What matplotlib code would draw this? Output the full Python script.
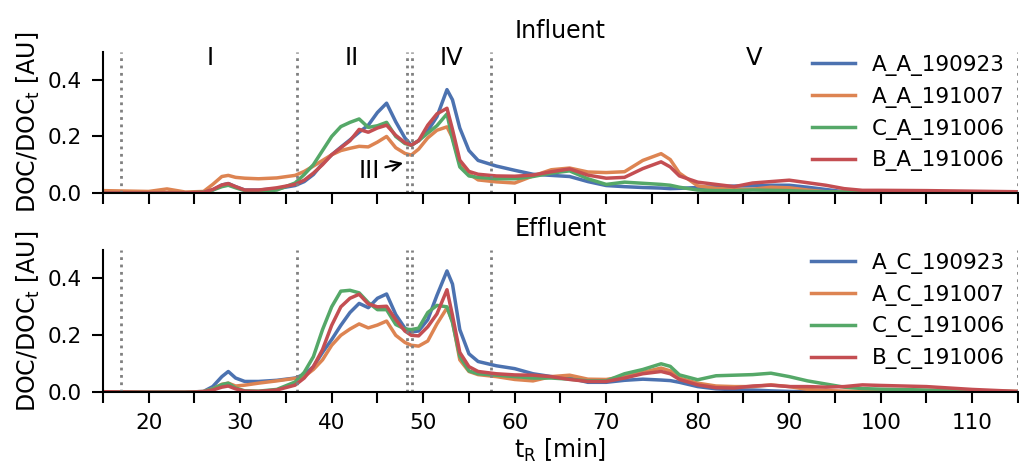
import numpy as np
import matplotlib
matplotlib.use("Agg")
from matplotlib import pyplot as plt

# retention time grid [min]
t_R = [15, 20, 22, 24, 26, 27, 28, 28.7, 29.5, 30.5, 32, 34, 36, 37, 38, 39, 40, 41, 42, 43, 44,
       45, 46, 47, 48, 48.7, 49.5, 50.5, 51.5, 52.6, 53.2, 54, 55, 56, 58, 60, 62, 64, 66, 68, 70,
       72, 74, 76, 77, 78, 80, 82, 84, 86, 88, 90, 92, 94, 96, 98, 100, 105, 110, 115]

# influent
A_A_190923 = [0, 0, 0, 0, 0.002, 0.01, 0.028, 0.033, 0.022, 0.01, 0.01, 0.015, 0.026, 0.04, 0.065, 0.104, 0.135, 0.162, 0.188, 0.215, 0.24,
              0.285, 0.318, 0.252, 0.195, 0.169, 0.185, 0.22, 0.27, 0.366, 0.33, 0.23, 0.15, 0.115, 0.095, 0.08, 0.066, 0.062, 0.058, 0.04, 0.026,
              0.022, 0.019, 0.017, 0.015, 0.016, 0.019, 0.022, 0.024, 0.025, 0.027, 0.027, 0.02, 0.012, 0.004, 0.002, 0.001, 0.001, 0, 0]
A_A_191007 = [0.008, 0.005, 0.014, 0.003, 0.005, 0.03, 0.058, 0.062, 0.055, 0.052, 0.05, 0.053, 0.062, 0.076, 0.095, 0.115, 0.135, 0.15, 0.158, 0.165, 0.163,
              0.18, 0.2, 0.16, 0.14, 0.134, 0.155, 0.195, 0.222, 0.234, 0.195, 0.104, 0.068, 0.046, 0.039, 0.035, 0.06, 0.082, 0.088, 0.074, 0.072,
              0.075, 0.115, 0.139, 0.118, 0.07, 0.025, 0.016, 0.012, 0.013, 0.02, 0.018, 0.01, 0.004, 0.003, 0.003, 0.003, 0.003, 0.004, 0.002]
C_A_191006 = [0, 0, 0, 0, 0.002, 0.01, 0.022, 0.027, 0.018, 0.008, 0.004, 0.01, 0.035, 0.065, 0.1, 0.15, 0.2, 0.235, 0.25, 0.262, 0.232,
              0.238, 0.25, 0.2, 0.175, 0.169, 0.185, 0.212, 0.238, 0.28, 0.19, 0.092, 0.06, 0.055, 0.05, 0.05, 0.058, 0.07, 0.078, 0.05, 0.03,
              0.038, 0.034, 0.03, 0.027, 0.02, 0.01, 0.008, 0.008, 0.01, 0.009, 0.008, 0.005, 0.004, 0.003, 0.003, 0.003, 0.002, 0.002, 0.002]
B_A_191006 = [0, 0, 0, 0, 0.002, 0.012, 0.028, 0.033, 0.022, 0.01, 0.01, 0.018, 0.03, 0.045, 0.07, 0.1, 0.135, 0.16, 0.185, 0.225, 0.215,
              0.23, 0.24, 0.204, 0.178, 0.169, 0.185, 0.24, 0.28, 0.3, 0.225, 0.116, 0.076, 0.066, 0.06, 0.059, 0.063, 0.075, 0.085, 0.063, 0.052,
              0.055, 0.086, 0.11, 0.092, 0.06, 0.038, 0.03, 0.022, 0.035, 0.04, 0.045, 0.036, 0.027, 0.015, 0.009, 0.009, 0.008, 0.006, 0.004]

# effluent
A_C_190923 = [0.002, 0, 0, 0, 0.003, 0.02, 0.055, 0.073, 0.05, 0.038, 0.038, 0.042, 0.05, 0.063, 0.09, 0.14, 0.185, 0.235, 0.28, 0.312, 0.297,
              0.33, 0.345, 0.273, 0.225, 0.212, 0.215, 0.255, 0.34, 0.426, 0.38, 0.22, 0.135, 0.108, 0.093, 0.083, 0.065, 0.055, 0.05, 0.035, 0.035,
              0.042, 0.046, 0.043, 0.041, 0.035, 0.02, 0.012, 0.009, 0.008, 0.005, 0.003, 0.002, 0.001, 0, 0, 0, 0, 0, 0]
A_C_191007 = [0.002, 0, 0, 0, 0.003, 0.012, 0.028, 0.032, 0.022, 0.025, 0.032, 0.04, 0.049, 0.055, 0.08, 0.114, 0.165, 0.2, 0.222, 0.24, 0.226,
              0.236, 0.25, 0.2, 0.175, 0.165, 0.162, 0.18, 0.24, 0.296, 0.25, 0.114, 0.073, 0.062, 0.055, 0.045, 0.04, 0.055, 0.06, 0.046, 0.045,
              0.055, 0.07, 0.085, 0.075, 0.05, 0.032, 0.022, 0.02, 0.02, 0.026, 0.02, 0.01, 0.006, 0.004, 0.003, 0.003, 0.003, 0.003, 0.003]
C_C_191006 = [0.002, 0, 0, 0, 0.002, 0.012, 0.027, 0.032, 0.015, 0.005, 0.004, 0.01, 0.036, 0.07, 0.125, 0.22, 0.3, 0.355, 0.358, 0.349, 0.315,
              0.29, 0.29, 0.238, 0.222, 0.22, 0.225, 0.28, 0.305, 0.3, 0.245, 0.126, 0.075, 0.065, 0.06, 0.055, 0.05, 0.05, 0.046, 0.04, 0.04,
              0.065, 0.08, 0.1, 0.091, 0.061, 0.044, 0.058, 0.06, 0.062, 0.067, 0.055, 0.04, 0.029, 0.018, 0.013, 0.011, 0.008, 0.005, 0.002]
B_C_191006 = [0.002, 0, 0, 0, 0.002, 0.008, 0.018, 0.022, 0.012, 0.004, 0.003, 0.008, 0.025, 0.05, 0.09, 0.15, 0.235, 0.3, 0.33, 0.344, 0.31,
              0.3, 0.302, 0.255, 0.215, 0.2, 0.198, 0.23, 0.275, 0.36, 0.27, 0.14, 0.09, 0.073, 0.065, 0.061, 0.06, 0.055, 0.045, 0.038, 0.038,
              0.05, 0.065, 0.073, 0.065, 0.045, 0.026, 0.016, 0.015, 0.022, 0.025, 0.02, 0.02, 0.018, 0.02, 0.026, 0.024, 0.02, 0.01, 0.003]

influent = {"A_A_190923": A_A_190923, "A_A_191007": A_A_191007,
            "C_A_191006": C_A_191006, "B_A_191006": B_A_191006}
effluent = {"A_C_190923": A_C_190923, "A_C_191007": A_C_191007,
            "C_C_191006": C_C_191006, "B_C_191006": B_C_191006}

fraction_bounds = [17.0, 36.2, 48.2, 48.8, 57.4, 115]
fraction_names = ["I", "II", "IV", "V"]
fraction_pos = [26.7, 42.2, 53.1, 86.2]

colors = ["#4C72B0", "#DD8452", "#55A868", "#C44E52"]

plt.rcParams["mathtext.default"] = "regular"
plt.rcParams["font.family"] = "DejaVu Sans"

fig = plt.figure(figsize=(10.19, 4.67), dpi=100)
ax1 = fig.add_axes([0.101, 0.587, 0.898, 0.302])
ax2 = fig.add_axes([0.101, 0.160, 0.898, 0.305], sharex=ax1)


def makePanel(ax, data, title):
    for (name, vals), c in zip(data.items(), colors):
        ax.plot(t_R, vals, color=c, lw=2.5, label=name)
    for b in fraction_bounds:
        ax.axvline(b, color="grey", ls=":", lw=2)
    ax.set_xlim(15, 115)
    ax.set_ylim(0, 0.5)
    ax.set_yticks([0, 0.2, 0.4])
    ax.set_xticks(range(20, 111, 10))
    ax.set_xticks(range(15, 116, 10), minor=True)
    ax.tick_params(which="both", direction="out", length=8, width=1.5, labelsize=15.5, pad=7)
    for s in ["top", "right"]:
        ax.spines[s].set_visible(False)
    for s in ["left", "bottom"]:
        ax.spines[s].set_linewidth(1.5)
    ax.set_ylabel("DOC/DOC$_t$ [AU]", fontsize=17)
    ax.set_title(title, fontsize=17, pad=10)
    ax.legend(loc="upper right", bbox_to_anchor=(1.007, 1.115), frameon=False, fontsize=15.5,
              handlelength=2.0, handletextpad=0.8, labelspacing=0.5)


makePanel(ax1, influent, "Influent")
makePanel(ax2, effluent, "Effluent")

plt.setp(ax1.get_xticklabels(), visible=False)
for name, pos in zip(fraction_names, fraction_pos):
    ax1.text(pos, 0.478, name, ha="center", va="center", fontsize=17.5)
ax1.annotate("III", xy=(48.1, 0.108), xytext=(44.1, 0.077), ha="center", va="center", fontsize=17.5,
             arrowprops=dict(arrowstyle="->", color="black", lw=1.5))

ax2.set_xlabel("t$_R$ [min]", fontsize=17, labelpad=3)

fig.savefig("out.png", dpi=100)
